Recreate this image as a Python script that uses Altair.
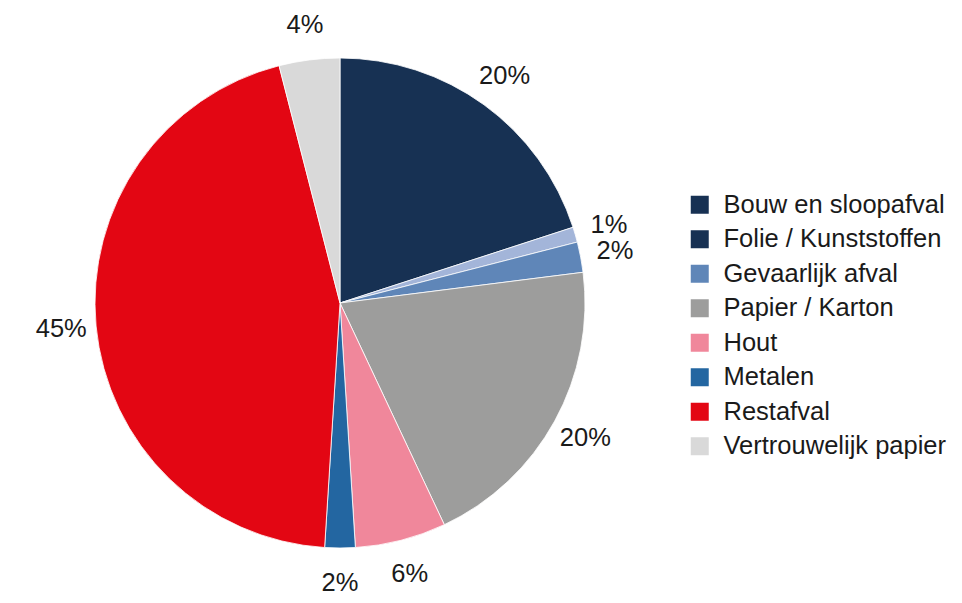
import altair as alt
import pandas as pd

categories = ["Bouw en sloopafval", "Folie / Kunststoffen", "Gevaarlijk afval",
              "Papier / Karton", "Hout", "Metalen", "Restafval", "Vertrouwelijk papier"]
values = [20, 1, 2, 20, 6, 2, 45, 4]
labels = ["20%", "1%", "2%", "20%", "6%", "2%", "45%", "4%"]
legend_colors = ["#173153", "#173153", "#5f86b8", "#9d9d9c", "#f0879b", "#2366a1", "#e30613", "#d9d9d9"]
slice_colors = ["#173153", "#a3b5d9", "#5f86b8", "#9d9d9c", "#f0879b", "#2366a1", "#e30613", "#d9d9d9"]

df = pd.DataFrame({
    "idx": list(range(len(categories))),
    "category": categories,
    "value": values,
    "label": labels,
    "slice_color": slice_colors,
})

FONT = "Liberation Sans"
CX, CY = 332, 295

base = alt.Chart(df).encode(
    theta=alt.Theta("value:Q", stack=True),
    order=alt.Order("idx:Q"),
)

legend_layer = base.mark_arc(radius=245, opacity=0).encode(
    x=alt.value(CX), y=alt.value(CY),
    color=alt.Color(
        "category:N",
        sort=categories,
        scale=alt.Scale(domain=categories, range=legend_colors),
        legend=alt.Legend(
            title=None, orient="none", legendX=679, legendY=184,
            symbolType="square", symbolSize=324, symbolOpacity=1,
            symbolStrokeWidth=0, labelFont=FONT, labelFontSize=25.5,
            labelColor="#1a1a1a", labelOffset=11, rowPadding=7.5,
            labelLimit=400, padding=0,
        ),
    ),
)

arcs = base.mark_arc(radius=245, stroke="white", strokeWidth=0.8).encode(
    x=alt.value(CX), y=alt.value(CY),
    fill=alt.Fill("slice_color:N", scale=None, legend=None),
)

text = base.mark_text(radius=280, font=FONT, fontSize=25.5, color="#1a1a1a",
                      align="center", baseline="middle").encode(
    x=alt.value(CX), y=alt.value(CY),
    text="label:N",
)

chart = alt.layer(legend_layer, arcs, text).properties(
    width=946, height=595, autosize=alt.AutoSizeParams(type="none"),
    padding=0, background="white",
).configure_view(stroke=None)

chart.save("out.html", embed_options={"renderer": "svg", "actions": False})
